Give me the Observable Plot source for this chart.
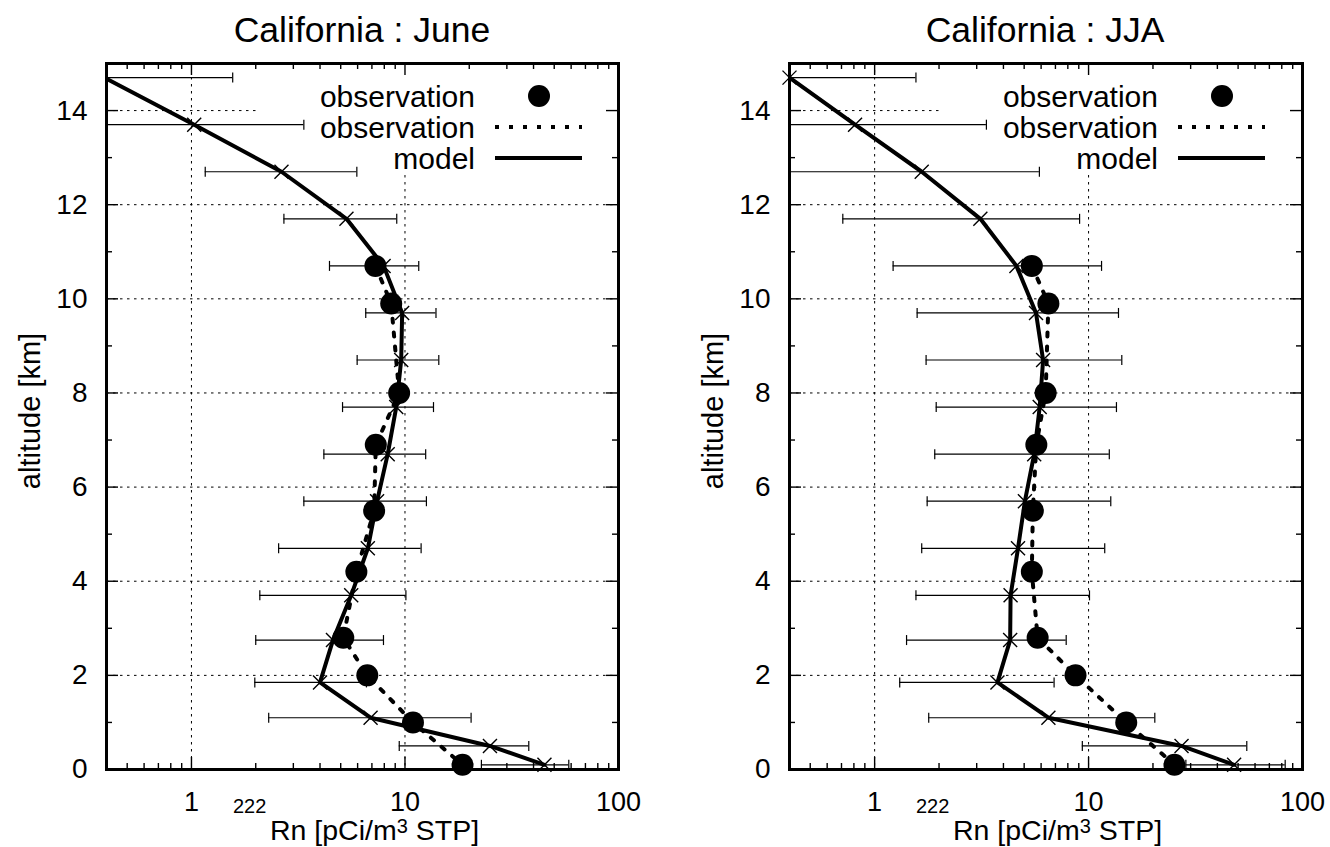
<!DOCTYPE html>
<html><head><meta charset="utf-8">
<script src="https://cdn.jsdelivr.net/npm/d3@7"></script>
<script src="https://cdn.jsdelivr.net/npm/@observablehq/plot@0.6"></script>
<style>
body{margin:0;background:#fff;}
#wrap{position:relative;width:1330px;height:847px;overflow:hidden;font-family:"Liberation Sans",Arial,sans-serif;background:#fff;}
.panel{position:absolute;top:0;width:665px;height:847px;}
#overlay{position:absolute;left:0;top:0;pointer-events:none;font-family:"Liberation Sans",Arial,sans-serif;}
</style></head><body>
<div id="wrap">
<div class="panel" id="p1" style="left:0"></div>
<div class="panel" id="p2" style="left:665px"></div>
<svg id="overlay" width="1330" height="847"></svg>
</div>
<script>
// ---- data ----
const titles = ["California : June", "California : JJA"];
const modelAltitudes = [14.7, 13.7, 12.7, 11.7, 10.7, 9.7, 8.7, 7.7, 6.7, 5.7, 4.7, 3.7, 2.75, 1.85, 1.1, 0.5, 0.1];
const obsAltitudes = [10.7, 9.9, 8.0, 6.9, 5.5, 4.2, 2.8, 2.0, 1.0, 0.1];

const juneModel = [0.39, 1.03, 2.64, 5.32, 7.94, 9.7, 9.6, 9.1, 8.3, 7.4, 6.7, 5.6, 4.6, 4.0, 6.9, 25, 45];
const juneLow   = [0.2, 0.2, 1.16, 2.71, 4.43, 6.55, 5.97, 5.1, 4.17, 3.36, 2.56, 2.09, 2.0, 1.98, 2.3, 9.4, 22.8];
const juneHigh  = [1.56, 3.36, 5.95, 9.15, 11.6, 13.97, 14.4, 13.6, 12.5, 12.6, 11.9, 10.1, 7.93, 6.6, 20.4, 38, 58.5];
const juneObs   = [7.27, 8.62, 9.39, 7.3, 7.17, 5.92, 5.14, 6.66, 10.9, 18.6];

const jjaModel = [0.4, 0.81, 1.66, 3.12, 4.6, 5.68, 6.13, 5.91, 5.57, 5.04, 4.68, 4.32, 4.3, 3.75, 6.49, 27.2, 47.9];
const jjaLow   = [0.2, 0.2, 0.2, 0.71, 1.22, 1.58, 1.74, 1.94, 1.91, 1.76, 1.66, 1.56, 1.41, 1.31, 1.79, 9.35, 28.5];
const jjaHigh  = [1.56, 3.33, 5.89, 9.08, 11.5, 13.8, 14.3, 13.5, 12.5, 12.7, 11.9, 10.1, 7.86, 6.9, 20.4, 54.9, 83];
const jjaObs   = [5.43, 6.49, 6.3, 5.7, 5.49, 5.43, 5.78, 8.69, 15.0, 25.2];

const xTickLabels = [1, 10, 100];
const yTickLabels = [0, 2, 4, 6, 8, 10, 12, 14];
const xGridTicks = [1, 10];
const yGridTicks = [2, 4, 6, 8, 10, 12, 14];
const xMajorTicks = [1, 10];
const xMinorTicks = [0.5, 0.6, 0.7, 0.8, 0.9, 2, 3, 4, 5, 6, 7, 8, 9, 20, 30, 40, 50, 60, 70, 80, 90];
const yMajorTicks = [2, 4, 6, 8, 10, 12, 14];
const yMinorTicks = [1, 3, 5, 7, 9, 11, 13];
const legendLabels = ["observation", "observation", "model"];

// ---- symbols ----
const capSymbol = {draw(ctx, size) { const r = Math.sqrt(size / Math.PI); ctx.moveTo(0, -r); ctx.lineTo(0, r); }};
const crossSymbol = {draw(ctx, size) { const r = Math.sqrt(size / Math.PI); ctx.moveTo(-r, -r); ctx.lineTo(r, r); ctx.moveTo(-r, r); ctx.lineTo(r, -r); }};

const W = 665, H = 847, MT = 63, MB = 78;
const PH = H - MT - MB;
const DOTS = "4,10";

function panel(model, lo, hi, obs, marginLeft, marginRight) {
  const PW = W - marginLeft - marginRight;
  const mData = modelAltitudes.map((a, i) => ({alt: a, v: model[i], lo: lo[i], hi: hi[i]}));
  const oData = obsAltitudes.map((a, i) => ({alt: a, v: obs[i]}));
  const k = {stroke: "#000", strokeWidth: 1.4};
  return Plot.plot({
    width: W, height: H, marginTop: MT, marginBottom: MB, marginLeft, marginRight,
    style: {fontFamily: "'Liberation Sans', Arial, sans-serif", fontSize: "28px", color: "#000", background: "transparent", overflow: "visible"},
    x: {type: "log", domain: [0.4, 100]},
    y: {domain: [0, 15]},
    marks: [
      Plot.gridY({ticks: yGridTicks, stroke: "#000", strokeOpacity: 1, strokeWidth: 1, strokeDasharray: "2.5,4.5"}),
      Plot.gridX({ticks: xGridTicks, stroke: "#000", strokeOpacity: 1, strokeWidth: 1, strokeDasharray: "2.5,4.5"}),
      Plot.frame({fill: "white", stroke: "none", insetLeft: 153, insetBottom: PH - 110}),
      Plot.ruleY(mData, {y: "alt", x1: "lo", x2: "hi", stroke: "#000", strokeWidth: 1.2, clip: true}),
      Plot.dot(mData, {x: "lo", y: "alt", symbol: capSymbol, r: 5, fill: "none", stroke: "#000", strokeWidth: 1.2, clip: true}),
      Plot.dot(mData, {x: "hi", y: "alt", symbol: capSymbol, r: 5, fill: "none", stroke: "#000", strokeWidth: 1.2, clip: true}),
      Plot.line(oData, {x: "v", y: "alt", stroke: "#000", strokeWidth: 4, strokeDasharray: DOTS, clip: true}),
      Plot.line(mData, {x: "v", y: "alt", stroke: "#000", strokeWidth: 4, clip: true}),
      Plot.dot(mData, {filter: d => d.v >= 0.4, x: "v", y: "alt", symbol: crossSymbol, r: 7, fill: "none", stroke: "#000", strokeWidth: 1.4}),
      Plot.dot(oData, {x: "v", y: "alt", r: 11, fill: "#000", stroke: "none"}),
      // ticks (inside the frame, mirrored)
      Plot.ruleY(yMajorTicks, {...k, insetRight: PW - 12}),
      Plot.ruleY(yMajorTicks, {...k, insetLeft: PW - 12}),
      Plot.ruleY(yMinorTicks, {...k, insetRight: PW - 6}),
      Plot.ruleY(yMinorTicks, {...k, insetLeft: PW - 6}),
      Plot.ruleX(xMajorTicks, {...k, insetTop: PH - 12}),
      Plot.ruleX(xMajorTicks, {...k, insetBottom: PH - 12}),
      Plot.ruleX(xMinorTicks, {...k, insetTop: PH - 6}),
      Plot.ruleX(xMinorTicks, {...k, insetBottom: PH - 6}),
      Plot.frame({stroke: "#000", strokeWidth: 3}),
      Plot.axisX({ticks: xTickLabels, tickSize: 0, tickPadding: 22, tickFormat: d => String(d), label: null, fontSize: 27}),
      Plot.axisY({ticks: yTickLabels, tickSize: 0, tickPadding: 19, tickFormat: d => String(d), label: null})
    ]
  });
}

document.getElementById("p1").append(panel(juneModel, juneLow, juneHigh, juneObs, 106, 47));
document.getElementById("p2").append(panel(jjaModel, jjaLow, jjaHigh, jjaObs, 124, 28));

// ---- titles, axis labels, legends ----
const ov = d3.select("#overlay");
[0, 683].forEach((off, p) => {
  const cx = (106 + 618) / 2 + off;
  ov.append("text").attr("x", cx).attr("y", 42).attr("text-anchor", "middle").attr("font-size", 35.5).text(titles[p]);
  ov.append("text").attr("transform", `translate(${40 + off},411) rotate(-90)`).attr("text-anchor", "middle").attr("font-size", 29).text("altitude [km]");
  ov.append("text").attr("x", 233 + off).attr("y", 813).attr("font-size", 20).text("222");
  const t = ov.append("text").attr("x", 270 + off).attr("y", 840).attr("font-size", 28.5);
  t.append("tspan").text("Rn [pCi/m");
  t.append("tspan").attr("dy", -7).attr("font-size", 20).text("3");
  t.append("tspan").attr("dy", 7).text(" STP]");
  const ys = [96, 127, 158];
  legendLabels.forEach((lab, i) => {
    ov.append("text").attr("x", 475 + off).attr("y", ys[i] + 11).attr("text-anchor", "end").attr("font-size", 30).text(lab);
  });
  ov.append("circle").attr("cx", 539 + off).attr("cy", ys[0]).attr("r", 11).attr("fill", "#000");
  ov.append("line").attr("x1", 495 + off).attr("x2", 582 + off).attr("y1", ys[1]).attr("y2", ys[1]).attr("stroke", "#000").attr("stroke-width", 4).attr("stroke-dasharray", DOTS);
  ov.append("line").attr("x1", 495 + off).attr("x2", 582 + off).attr("y1", ys[2]).attr("y2", ys[2]).attr("stroke", "#000").attr("stroke-width", 4);
});
</script>
</body></html>
